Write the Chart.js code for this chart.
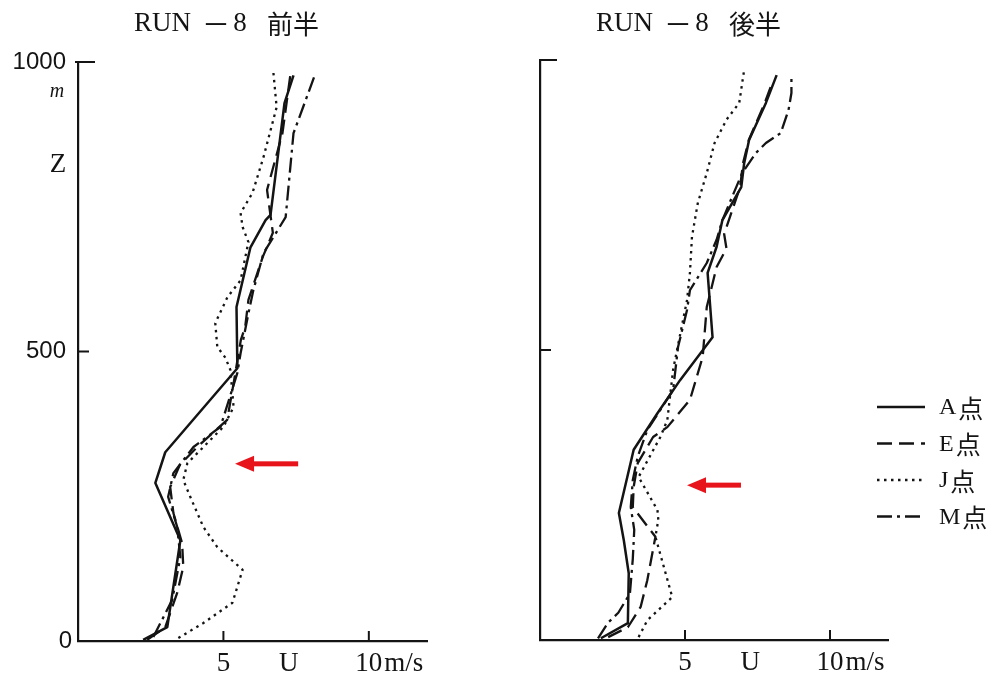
<!DOCTYPE html>
<html>
<head>
<meta charset="utf-8">
<script src="https://cdn.jsdelivr.net/npm/chart.js@4/dist/chart.umd.min.js"></script>
<style>
html, body { margin: 0; padding: 0; background: #fff; }
#wrap { position: relative; width: 1000px; height: 681px; overflow: hidden; }
#c1 { position: absolute; left: 0; top: 0; }
#c2 { position: absolute; left: 470px; top: 0; }
</style>
</head>
<body>
<div id="wrap">
  <canvas id="c1" width="470" height="681"></canvas>
  <canvas id="c2" width="530" height="681"></canvas>
</div>
<script>
// 風速鉛直分布 RUN-8 (前半 / 後半)
const seriesNames = ['A点', 'E点', 'J点', 'M点'];
const panelTitles = [['RUN', '－', '8', '前半'], ['RUN', '－', '8', '後半']];
const zTickValues = [0, 500, 1000];
const zTickLabels = ['0', '500', '1000'];
const uTickValues = [5, 10];
const uTickLabels = ['5', '10'];
const uUnit = 'm/s', uName = 'U', zName = 'Z', zUnit = 'm';

// 前半 (left)
const zA1 = [2, 24, 174, 273, 326, 471, 577, 680, 727, 736, 929, 977];
const uA1 = [2.24, 3.07, 3.52, 2.66, 3.0, 5.48, 5.45, 5.93, 6.45, 6.62, 7.1, 7.41];
const zE1 = [2, 24, 83, 128, 169, 221, 266, 304, 335, 382, 445, 520, 543, 589, 663, 705, 779, 877, 977];
const uE1 = [2.38, 3.0, 3.41, 3.62, 3.58, 3.28, 3.17, 3.5, 4.1, 5.13, 5.35, 5.6, 5.75, 5.86, 6.35, 6.7, 6.5, 7.03, 7.3];
const zJ1 = [5, 31, 66, 123, 162, 197, 249, 278, 307, 370, 404, 468, 489, 508, 549, 594, 623, 689, 715, 739, 774, 836, 922, 981];
const uJ1 = [3.45, 4.31, 5.31, 5.66, 4.79, 4.31, 3.86, 3.62, 3.76, 5.0, 5.35, 5.24, 5.07, 4.79, 4.72, 5.14, 5.59, 5.86, 5.66, 5.59, 6.0, 6.38, 6.83, 6.72];
const zM1 = [7, 71, 145, 197, 249, 290, 335, 370, 463, 497, 566, 606, 670, 732, 877, 981];
const uM1 = [2.59, 3.24, 3.52, 3.41, 3.1, 3.28, 3.97, 4.9, 5.48, 5.59, 5.86, 6.03, 6.38, 7.14, 7.41, 8.17];

// 後半 (right)
const zA2 = [3, 29, 115, 172, 219, 328, 391, 448, 522, 633, 678, 724, 781, 822, 862, 926, 974];
const uA2 = [2.1, 3.03, 3.06, 2.89, 2.72, 3.23, 4.05, 4.83, 5.95, 5.78, 6.09, 6.29, 6.94, 7.04, 7.21, 7.79, 8.16];
const zE2 = [5, 22, 57, 103, 178, 229, 264, 305, 350, 367, 414, 488, 574, 643, 675, 700, 781, 822, 862, 926, 960];
const uE2 = [2.35, 3.03, 3.47, 3.7, 3.98, 3.2, 3.23, 3.37, 3.9, 4.39, 5.17, 5.61, 5.75, 6.09, 6.43, 6.35, 6.9, 7.0, 7.2, 7.75, 8.0];
const zJ2 = [5, 34, 74, 178, 207, 224, 281, 350, 379, 466, 586, 633, 695, 753, 805, 857, 897, 926, 983];
const uJ2 = [3.4, 3.7, 4.56, 3.98, 4.08, 4.05, 3.4, 4.15, 4.39, 4.59, 5.07, 5.17, 5.24, 5.44, 5.75, 6.02, 6.43, 6.87, 7.04];
const zM2 = [3, 30, 47, 80, 140, 190, 229, 276, 316, 362, 431, 505, 569, 603, 650, 690, 724, 805, 840, 857, 874, 914, 943, 974];
const uM2 = [2.0, 2.35, 2.7, 3.1, 3.2, 3.25, 3.13, 3.2, 3.37, 3.7, 4.59, 4.76, 5.07, 5.17, 5.75, 6.09, 6.29, 6.97, 7.45, 7.79, 8.3, 8.57, 8.67, 8.67];

// red arrows: [z, u of tip, u of tail]
const arrow1 = [306, 5.4, 7.57];
const arrow2 = [267, 5.07, 6.93];

const ink = '#141414';
const dashes = [[], [15, 7], [2.5, 4.5], [15, 5, 3, 5]];
const serif = "'Liberation Serif', 'DejaVu Serif', serif";
const cjk = "'Noto Sans CJK JP'";

function pts(us, zs) { return us.map((u, i) => ({ x: u, y: zs[i] })); }

function makeSets(list) {
  return list.map((s, i) => ({
    label: seriesNames[i], data: pts(s[0], s[1]), showLine: true, pointRadius: 0,
    borderColor: ink, borderWidth: i === 0 ? 2.5 : 2.3, borderDash: dashes[i],
    borderJoinStyle: 'round', tension: 0, fill: false
  }));
}

function line(ctx, x1, y1, x2, y2) { ctx.beginPath(); ctx.moveTo(x1, y1); ctx.lineTo(x2, y2); ctx.stroke(); }

function drawArrow(ctx, x, y, a) {
  const py = y.getPixelForValue(a[0]), tip = x.getPixelForValue(a[1]), tail = x.getPixelForValue(a[2]);
  ctx.save();
  ctx.fillStyle = '#e8141c';
  ctx.fillRect(tip + 14, py - 2.5, tail - tip - 14, 5);
  ctx.beginPath(); ctx.moveTo(tip, py); ctx.lineTo(tip + 19, py - 8); ctx.lineTo(tip + 19, py + 8); ctx.closePath(); ctx.fill();
  ctx.restore();
}

const decor = {
  id: 'decor',
  afterDraw(chart) {
    const o = chart.options.plugins.decor;
    const { ctx, chartArea: ca, scales: { x, y } } = chart;
    ctx.save();
    ctx.strokeStyle = ink; ctx.fillStyle = ink; ctx.lineWidth = 2;
    // inward ticks
    zTickValues.forEach(v => {
      if (v === 0) return;
      const py = y.getPixelForValue(v);
      line(ctx, ca.left - (v === 1000 && o.zLabels ? 3 : 0), py, ca.left + (v === 1000 ? 17 : 11), py);
    });
    uTickValues.forEach(v => { const px = x.getPixelForValue(v); line(ctx, px, ca.bottom, px, ca.bottom - 10); });
    // x labels
    ctx.textBaseline = 'middle';
    ctx.font = '27px ' + serif;
    const ly = ca.bottom + 23;
    uTickValues.forEach((v, i) => {
      const px = x.getPixelForValue(v);
      ctx.textAlign = 'center'; ctx.fillText(uTickLabels[i], px, ly);
      if (i === uTickValues.length - 1) {
        const w = ctx.measureText(uTickLabels[i]).width;
        ctx.textAlign = 'left'; ctx.fillText(uUnit, px + w / 2 + 2, ly);
      }
    });
    ctx.textAlign = 'center'; ctx.fillText(uName, x.getPixelForValue(7.25), ly);
    // y labels
    if (o.zLabels) {
      ctx.font = '24px ' + "'Liberation Sans', Arial, sans-serif";
      ctx.textAlign = 'right';
      zTickValues.forEach((v, i) => ctx.fillText(zTickLabels[i], v === 0 ? 72 : 66, y.getPixelForValue(v)));
      ctx.textAlign = 'center';
      ctx.font = 'italic 20px ' + serif; ctx.fillText(zUnit, 57, 92);
      ctx.font = '27px ' + serif; ctx.fillText(zName, 58, 165);
    }
    // title, drawn piece by piece for the wide print spacing
    const t = o.title, tx = ca.left + 56, ty = 24;
    ctx.textAlign = 'left';
    ctx.font = '27px ' + serif;
    ctx.fillText(t[0], tx, ty);
    ctx.textAlign = 'center';
    ctx.font = '28px ' + cjk;
    ctx.fillText(t[1], tx + 82, ty);
    ctx.font = '27px ' + serif;
    ctx.fillText(t[2], tx + 106, ty);
    ctx.textAlign = 'left';
    ctx.font = '26px ' + cjk;
    ctx.fillText(t[3], tx + 133, ty);
    drawArrow(ctx, x, y, o.arrow);
    // legend
    if (o.legend) {
      const lx = o.legend[0], ly0 = o.legend[1];
      ctx.fillStyle = ink;
      chart.data.datasets.forEach((d, i) => {
        const yy = ly0 + i * 36.5;
        ctx.setLineDash(d.borderDash); ctx.lineWidth = 2.3;
        line(ctx, lx, yy, lx + 48, yy);
        ctx.setLineDash([]);
        ctx.textAlign = 'left';
        ctx.font = '24px ' + serif;
        ctx.fillText(d.label[0], lx + 62, yy + 1);
        const w = ctx.measureText(d.label[0]).width;
        ctx.font = '25px ' + cjk;
        ctx.fillText(d.label.slice(1), lx + 62 + w + 2, yy + 1);
      });
    }
    ctx.restore();
  }
};

function makeChart(id, sets, pad, opts) {
  return new Chart(document.getElementById(id), {
    type: 'scatter',
    data: { datasets: makeSets(sets) },
    options: {
      responsive: false, animation: false, events: [],
      layout: { padding: pad },
      plugins: { legend: { display: false }, tooltip: { enabled: false }, decor: opts },
      scales: {
        x: { type: 'linear', min: 0, max: 12, grid: { display: false, drawTicks: false }, ticks: { display: false },
             border: { display: true, color: ink, width: 2.2 }, afterFit: s => { s.height = 0; } },
        y: { type: 'linear', min: 0, max: 1000, grid: { display: false, drawTicks: false }, ticks: { display: false },
             border: { display: true, color: ink, width: 2.2 }, afterFit: s => { s.width = 0; } }
      }
    },
    plugins: [decor]
  });
}

makeChart('c1', [[uA1, zA1], [uE1, zE1], [uJ1, zJ1], [uM1, zM1]],
  { left: 78, right: 43, top: 62, bottom: 40 },
  { title: panelTitles[0], zLabels: true, arrow: arrow1, legend: null });
makeChart('c2', [[uA2, zA2], [uE2, zE2], [uJ2, zJ2], [uM2, zM2]],
  { left: 70, right: 112, top: 60, bottom: 41 },
  { title: panelTitles[1], zLabels: false, arrow: arrow2, legend: [407, 407] });
</script>
</body>
</html>
